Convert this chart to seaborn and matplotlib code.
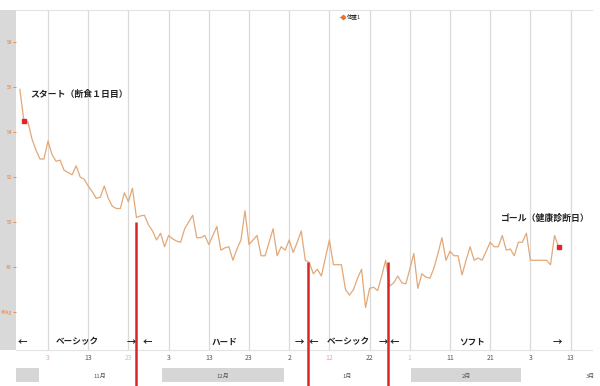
import numpy as np
import pandas as pd
import matplotlib
matplotlib.use("Agg")
import matplotlib.pyplot as plt
from matplotlib.lines import Line2D
import seaborn as sns

# ---------------- data ----------------
start_date = "2018-11-03"  # day 0
days = list(range(-7, 128))
weights = [
    55.9, 54.5, 54.45, 53.7, 53.2, 52.8, 52.8,            # -7 .. -1
    53.6, 53.0, 52.7, 52.75, 52.3, 52.2, 52.1, 52.5, 52.0, 51.9,   # 0..9
    51.6, 51.35, 51.05, 51.1, 51.6, 51.05, 50.7, 50.6, 50.6, 51.3,  # 10..19
    50.9, 51.5, 50.2, 50.27, 50.3, 49.87, 49.6, 49.2, 49.5, 48.9,   # 20..29
    49.4, 49.25, 49.15, 49.1, 49.7, 50.0, 50.3, 49.3, 49.3, 49.4,   # 30..39
    49.0, 49.4, 49.8, 48.75, 48.85, 48.9, 48.3, 48.8, 49.2, 50.5,   # 40..49
    49.0, 49.2, 49.4, 48.5, 48.5, 49.1, 49.7, 48.5, 48.9, 48.75,    # 50..59
    49.2, 48.65, 49.1, 49.6, 48.3, 48.2, 47.7, 47.9, 47.6, 48.4,    # 60..69
    49.2, 48.1, 48.1, 48.1, 47.0, 46.75, 47.0, 47.5, 47.9, 46.2,    # 70..79
    47.05, 47.1, 46.95, 47.6, 48.3, 47.15, 47.3, 47.6, 47.3, 47.25, # 80..89
    47.9, 48.6, 47.05, 47.7, 47.55, 47.5, 47.95, 48.6, 49.3, 48.3,  # 90..99
    48.7, 48.5, 48.5, 47.65, 48.3, 48.9, 48.3, 48.4, 48.3, 48.7,    # 100..109
    49.1, 48.9, 48.9, 49.4, 48.75, 48.8, 48.5, 49.1, 49.1, 49.5,    # 110..119
    48.3, 48.3, 48.3, 48.3, 48.3, 48.1, 49.4, 48.9,                 # 120..127
]
series_name = "体重1"

tick_days = list(range(0, 131, 10))
tick_labels = ["3", "13", "23", "3", "13", "23", "2", "12", "22", "1", "11", "21", "3", "13"]
tick_colors = {0: "#e8a3a3", 2: "#9fd3cf", 7: "#e8a3a3", 9: "#9fd3cf"}

y_ticks = [46, 48, 50, 52, 54, 56, 58]
y_tick_labels = ["46kg", "48", "50", "52", "54", "56", "58"]

month_names = ["10月", "11月", "12月", "1月", "2月", "3月"]
month_starts = [-33, -2, 28, 59, 90, 118]
month_ends = [-2, 28, 59, 90, 118, 149]
month_shaded = [True, False, True, False, True, False]

start_day, start_weight, start_text = -6, 54.5, "スタート（断食１日目）"
goal_day, goal_weight, goal_text = 127, 48.9, "ゴール（健康診断日）"

phase_names = ["ベーシック", "ハード", "ベーシック", "ソフト"]
phase_bounds = [21.9, 64.7, 84.6]          # days of the red phase lines
phase_bound_tops = [50.0, 48.2, 48.2]

# ---------------- figure ----------------
W, H = 600, 386
sns.set_theme(style="white")
plt.rcParams["font.family"] = ["Noto Sans CJK JP", "DejaVu Sans"]

fig = plt.figure(figsize=(W / 100, H / 100), dpi=100)
fig.patch.set_facecolor("white")

ax_l, ax_r, ax_t, ax_b = 16, 592, 10, 350
ppd = 4.02
x0 = (ax_l - 48) / ppd
x1 = x0 + (ax_r - ax_l) / ppd
def ypx(p):
    return 46 + (312 - p) / 22.5
y0, y1 = ypx(ax_b), ypx(ax_t)

strip = fig.add_axes([0, (H - ax_b) / H, ax_l / W, (ax_b - ax_t) / H])
strip.set_facecolor("#d9d9d9")
strip.set_xticks([]); strip.set_yticks([])
for s in strip.spines.values():
    s.set_visible(False)
strip.set_zorder(0)

ax = fig.add_axes([ax_l / W, (H - ax_b) / H, (ax_r - ax_l) / W, (ax_b - ax_t) / H])
ax.set_zorder(2)
ax.set_facecolor("white")

df = pd.DataFrame({"day": days, "weight": weights})
sns.lineplot(data=df, x="day", y="weight", ax=ax, color="#e2a878", lw=0.9,
             legend=False, zorder=3)
ax.plot([start_day, goal_day], [start_weight, goal_weight], ls="none",
        marker="s", ms=3.2, color="#e0262a", zorder=4)

ax.set_xlim(x0, x1)
ax.set_ylim(y0, y1)
ax.set_xlabel(""); ax.set_ylabel("")

ax.set_xticks(tick_days)
ax.set_xticklabels(tick_labels, fontsize=5, color="#555555")
for i, lab in enumerate(ax.get_xticklabels()):
    if i in tick_colors:
        lab.set_color(tick_colors[i])
ax.tick_params(axis="x", length=0, pad=3.0)
ax.grid(axis="x", color="#d9d9d9", lw=0.9)
ax.grid(axis="y", visible=False)

ax.set_yticks(y_ticks)
ax.set_yticklabels(y_tick_labels, fontsize=3.6, color="#e8833a")
ax.tick_params(axis="y", length=2, width=0.6, color="#e8833a", pad=0.8, left=True)

for side in ["left", "right"]:
    ax.spines[side].set_visible(False)
for side in ["top", "bottom"]:
    ax.spines[side].set_color("#e3e3e3")
    ax.spines[side].set_linewidth(0.8)

# legend
handle = Line2D([], [], color="#e8742c", marker="D", ms=2.2, lw=0.8)
ax.legend([handle], [series_name], loc="upper left",
          bbox_to_anchor=((336 - ax_l) / (ax_r - ax_l), 1.0),
          frameon=False, fontsize=4, handlelength=1.0, handletextpad=0.3,
          borderaxespad=0.3)

# annotations
ax.text(x0 + (30 - ax_l) / ppd, ypx(94), start_text, fontsize=6.4,
        fontweight="bold", color="#222222", va="center", ha="left", zorder=5)
ax.text(x0 + (501 - ax_l) / ppd, ypx(218), goal_text, fontsize=6.4,
        fontweight="bold", color="#222222", va="center", ha="left", zorder=5)

# phase lines
ybottom = ypx(H)
ax.vlines(phase_bounds, [ybottom] * 3, phase_bound_tops, color="#d9262a",
          lw=1.8, clip_on=False, zorder=6)

# phase labels with arrows
def dpx(p):
    return (p - 48) / ppd
y_ph = ypx(342)
label_pos = [77, 225, 348, 472]
left_arrows = [22, 147, 313, 394]
right_arrows = [131, 299, 383, 557]
for name, lp in zip(phase_names, label_pos):
    ax.text(dpx(lp), y_ph, name, fontsize=6.2, fontweight="bold",
            color="#222222", ha="center", va="center", zorder=5)
for lp in left_arrows:
    ax.text(dpx(lp), y_ph, "←", fontsize=6.8, fontweight="bold", color="#222222",
            ha="center", va="center", zorder=5)
for rp in right_arrows:
    ax.text(dpx(rp), y_ph, "→", fontsize=6.8, fontweight="bold", color="#222222",
            ha="center", va="center", zorder=5)

# month band
axm = fig.add_axes([ax_l / W, 0, (ax_r - ax_l) / W, 20 / H])
axm.set_zorder(0)
axm.set_xlim(x0, x1)
axm.set_ylim(0, 1)
axm.axis("off")
for name, s, e, shaded in zip(month_names, month_starts, month_ends, month_shaded):
    if shaded:
        axm.axvspan(s + 0.3, e - 0.3, ymin=0.2, ymax=0.9, color="#d6d6d6", lw=0)
    vs, ve = max(s, x0), min(e, x1)
    if ve - vs > 8:
        cx = (vs + ve) / 2
        if name == "3月":
            cx = dpx(590)
        axm.text(cx, 0.5, name, fontsize=4.3, color="#555555",
                 ha="center", va="center")

fig.savefig("out.png", dpi=100, facecolor="white")
